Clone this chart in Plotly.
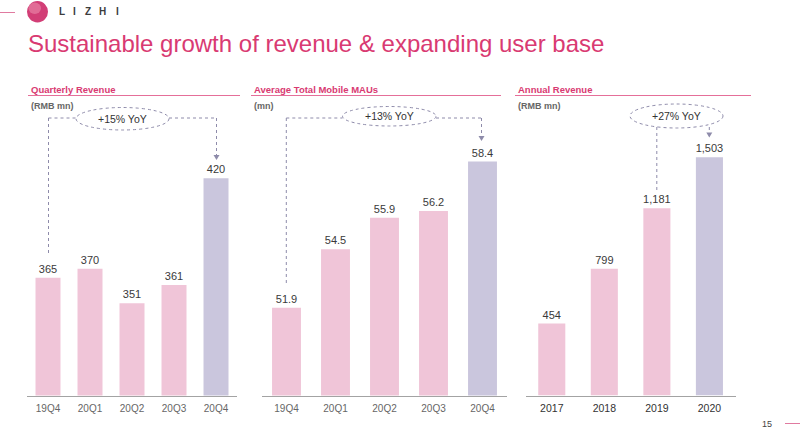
import plotly.graph_objects as go

# ---------------- data ----------------
q_labels = ["19Q4", "20Q1", "20Q2", "20Q3", "20Q4"]
q_revenue = [365, 370, 351, 361, 420]
mau_labels = ["19Q4", "20Q1", "20Q2", "20Q3", "20Q4"]
mau_values = [51.9, 54.5, 55.9, 56.2, 58.4]
year_labels = ["2017", "2018", "2019", "2020"]
annual_revenue = [454, 799, 1181, 1503]
yoy_texts = ["+15% YoY", "+13% YoY", "+27% YoY"]
panel_titles = ["Quarterly Revenue", "Average Total Mobile MAUs", "Annual Revenue"]
panel_units = ["(RMB mn)", "(mn)", "(RMB mn)"]
title_text = "Sustainable growth of revenue & expanding user base"
brand = "LIZHI"

# ---------------- style ----------------
W, H = 800, 439
PINK_BAR = "#F0C5D8"
PURPLE_BAR = "#CAC6DD"
ACCENT = "#D93A72"
DASH = "#8E8BAA"
FONT = "Arial, Liberation Sans, sans-serif"


def px(x):
    return x / W


def py(y):
    return 1 - y / H


def colors(n):
    return [PINK_BAR] * (n - 1) + [PURPLE_BAR]


fig = go.Figure()

fig.add_trace(go.Bar(x=q_labels, y=q_revenue, marker_color=colors(len(q_labels)),
                     width=0.595, texttemplate="%{y}",
                     xaxis="x", yaxis="y"))
fig.add_trace(go.Bar(x=mau_labels, y=mau_values, marker_color=colors(len(mau_labels)),
                     width=0.59, texttemplate="%{y:.1f}",
                     xaxis="x2", yaxis="y2"))
fig.add_trace(go.Bar(x=year_labels, y=annual_revenue, marker_color=colors(len(year_labels)),
                     width=0.515, texttemplate="%{y:,}",
                     xaxis="x3", yaxis="y3"))
fig.update_traces(marker_line_width=0, textposition="outside", cliponaxis=False,
                  constraintext="none", hoverinfo="skip",
                  textfont=dict(size=11, color="#3a3a3a", family=FONT))

ydom = [py(395.5), py(100)]
xaxis_common = dict(showgrid=False, zeroline=False, showline=True, linecolor="#A3A3A3",
                    linewidth=1, ticks="", fixedrange=True, ticklabelstandoff=3)
yaxis_common = dict(showgrid=False, zeroline=False, showline=False, showticklabels=False,
                    domain=ydom, fixedrange=True)

fig.update_layout(
    width=W, height=H, margin=dict(l=0, r=0, t=0, b=0),
    paper_bgcolor="white", plot_bgcolor="white", showlegend=False,
    font=dict(family=FONT),
    xaxis=dict(domain=[px(27), px(237)], anchor="y",
               tickfont=dict(size=10, color="#666666"), **xaxis_common),
    yaxis=dict(anchor="x", range=[300, 300 + 295.5 / 1.81], **yaxis_common),
    xaxis2=dict(domain=[px(262), px(507)], anchor="y2",
                tickfont=dict(size=10, color="#666666"), **xaxis_common),
    yaxis2=dict(anchor="x2", range=[48, 48 + 295.5 / 22.5], **yaxis_common),
    xaxis3=dict(domain=[px(525.5), px(735.7)], anchor="y3",
                tickfont=dict(size=10.5, color="#333333"), **xaxis_common),
    yaxis3=dict(anchor="x3", range=[0, 295.5 / 0.1585], **yaxis_common),
)

shapes = []
annotations = []

# ---- header: logo, title ----
shapes.append(dict(type="line", xref="paper", yref="paper", x0=px(0), x1=px(15),
                   y0=py(12.5), y1=py(12.5), line=dict(color="#E07AA0", width=1)))
shapes.append(dict(type="circle", xref="paper", yref="paper", x0=px(27), x1=px(48),
                   y0=py(22.5), y1=py(1), fillcolor="#D23E76", line=dict(width=0)))
shapes.append(dict(type="circle", xref="paper", yref="paper", x0=px(28.5), x1=px(41),
                   y0=py(14), y1=py(2.5), fillcolor="#E5789F", line=dict(width=0), opacity=0.8))
for ch, xc in zip(brand, [61.7, 74.3, 88, 102, 117.7]):
    annotations.append(dict(text="<b>%s</b>" % ch, x=px(xc), y=py(12), xref="paper", yref="paper",
                            showarrow=False, xanchor="center", yanchor="middle",
                            font=dict(size=10, color="#3d3d3d", family=FONT)))
annotations.append(dict(text=title_text, x=px(26), y=py(43), xref="paper", yref="paper",
                        showarrow=False, xanchor="left", yanchor="middle",
                        font=dict(size=24, color=ACCENT, family=FONT)))

# ---- panel headers ----
header_x = [29, 252, 516]
underline_x = [(28, 240), (251, 501), (515, 751)]
for t, u, hx, (ux0, ux1) in zip(panel_titles, panel_units, header_x, underline_x):
    annotations.append(dict(text="<b>%s</b>" % t, x=px(hx), y=py(89), xref="paper", yref="paper",
                            showarrow=False, xanchor="left", yanchor="middle",
                            font=dict(size=9.5, color=ACCENT, family=FONT)))
    annotations.append(dict(text="<b>%s</b>" % u, x=px(hx), y=py(105.5), xref="paper", yref="paper",
                            showarrow=False, xanchor="left", yanchor="middle",
                            font=dict(size=9, color="#666666", family=FONT)))
    shapes.append(dict(type="line", xref="paper", yref="paper", x0=px(ux0), x1=px(ux1),
                       y0=py(95.5), y1=py(95.5), line=dict(color="#E56F99", width=1)))


def dline(x0, y0, x1, y1):
    shapes.append(dict(type="line", xref="paper", yref="paper", x0=px(x0), x1=px(x1),
                       y0=py(y0), y1=py(y1), line=dict(color=DASH, width=1, dash="dot")))


def ellipse(x0, y0, x1, y1, text):
    shapes.append(dict(type="circle", xref="paper", yref="paper", x0=px(x0), x1=px(x1),
                       y0=py(y1), y1=py(y0), fillcolor="white",
                       line=dict(color=DASH, width=1, dash="dot")))
    annotations.append(dict(text=text, x=px((x0 + x1) / 2), y=py((y0 + y1) / 2),
                            xref="paper", yref="paper", showarrow=False,
                            xanchor="center", yanchor="middle",
                            font=dict(size=10.5, color="#333333", family=FONT)))


def arrow(xc, ytip):
    path = "M %f %f L %f %f L %f %f Z" % (px(xc - 3), py(ytip - 5), px(xc + 3), py(ytip - 5),
                                         px(xc), py(ytip))
    shapes.append(dict(type="path", xref="paper", yref="paper", path=path,
                       fillcolor=DASH, line=dict(width=0)))


# panel 1 connector
dline(48.5, 118, 76, 118)
dline(48.5, 118, 48.5, 256)
dline(169, 118, 216.5, 118)
dline(216.5, 118, 216.5, 156)
arrow(216.5, 160)
ellipse(76, 107.5, 169, 130, yoy_texts[0])

# panel 2 connector
dline(286.3, 118, 342.5, 118)
dline(286.3, 118, 286.3, 284)
dline(436, 118, 481.5, 118)
dline(481.5, 118, 481.5, 136)
arrow(481.5, 141)
ellipse(342.5, 106.5, 436, 126, yoy_texts[1])

# panel 3 connector
dline(656.8, 127, 656.8, 190)
dline(709.3, 127, 709.3, 133)
arrow(709.3, 137.5)
ellipse(630, 104, 723, 128, yoy_texts[2])

# footer
annotations.append(dict(text="15", x=px(767), y=py(424), xref="paper", yref="paper",
                        showarrow=False, xanchor="center", yanchor="middle",
                        font=dict(size=9, color="#444444", family=FONT)))
shapes.append(dict(type="line", xref="paper", yref="paper", x0=px(785), x1=px(800),
                   y0=py(423.5), y1=py(423.5), line=dict(color="#E07AA0", width=1)))

fig.update_layout(shapes=shapes, annotations=annotations)
fig.write_html("out.html", config={"displayModeBar": False},
               post_script="document.body.style.margin='0';document.body.style.overflow='hidden';")
